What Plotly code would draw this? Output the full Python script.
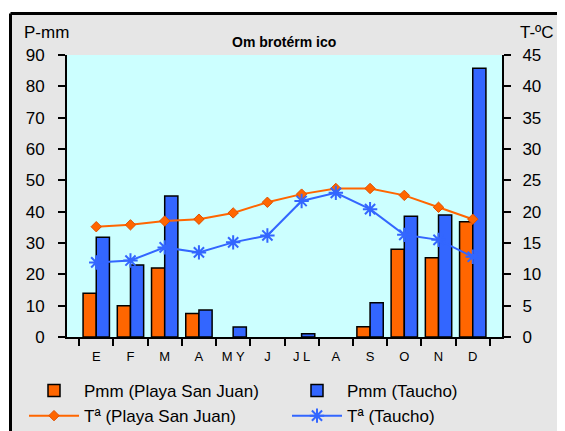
import plotly.graph_objects as go

months = ["E", "F", "M", "A", "MY", "J", "JL", "A ", "S", "O", "N", "D"]
month_labels = ["E", "F", "M", "A", "M Y", "J", "J L", "A", "S", "O", "N", "D"]
pmm_playa = [14, 10, 22, 7.5, 0, 0, 0, 0, 3.3, 28, 25.3, 36.8]
pmm_taucho = [31.8, 23, 45, 8.6, 3.2, 0, 1, 0, 10.9, 38.5, 38.9, 85.8]
t_playa = [17.6, 17.9, 18.5, 18.8, 19.8, 21.5, 22.8, 23.7, 23.7, 22.6, 20.7, 18.8]
t_taucho = [11.9, 12.2, 14.3, 13.5, 15.1, 16.2, 21.7, 23.0, 20.4, 16.3, 15.5, 12.8]

ORANGE = "#FF6600"
BLUE = "#3366FF"
GRAY = "#E6E6E6"
FONT = "Liberation Sans, Arial, sans-serif"


def outline(values):
    # no outline on empty (zero) bars, as in the reference
    return [0 if v == 0 else 1.5 for v in values]


fig = go.Figure()
fig.add_trace(go.Bar(x=months, y=pmm_playa, name="Pmm (Playa San Juan)", legend="legend",
                     marker=dict(color=ORANGE, line=dict(color="black", width=outline(pmm_playa)))))
fig.add_trace(go.Bar(x=months, y=pmm_taucho, name="Pmm (Taucho)", legend="legend2",
                     marker=dict(color=BLUE, line=dict(color="black", width=outline(pmm_taucho)))))
fig.add_trace(go.Scatter(x=months, y=t_playa, name="Tª (Playa San Juan)", yaxis="y2", legend="legend",
                         mode="lines+markers", line=dict(color=ORANGE, width=2),
                         marker=dict(symbol="diamond", size=8, color=ORANGE,
                                     line=dict(color="#E05000", width=1))))
fig.add_trace(go.Scatter(x=months, y=t_taucho, name="Tª (Taucho)", yaxis="y2", legend="legend2",
                         mode="lines+markers", line=dict(color=BLUE, width=2),
                         marker=dict(symbol="asterisk-open", size=12, color=BLUE,
                                     line=dict(color=BLUE, width=2))))

# page body has an 8px margin; reference pixel coords are converted below
OFF = 8
W, H = 565 - OFF, 431 - OFF
L, R, T, B = 67 - OFF, 63, 55 - OFF, 94
pw, ph = W - L - R, H - T - B

def px(x):
    return (x - OFF - L) / pw

def py(y):
    return (H - B - (y - OFF)) / ph

shapes = [
    dict(type="rect", xref="paper", yref="paper", x0=px(-5), x1=px(10), y0=py(500), y1=py(-5),
         fillcolor="white", line=dict(width=0)),
    dict(type="rect", xref="paper", yref="paper", x0=px(-5), x1=px(600), y0=py(13), y1=py(-5),
         fillcolor="white", line=dict(width=0)),
    dict(type="line", xref="paper", yref="paper", x0=px(10.5), x1=px(10.5), y0=py(13.5), y1=py(500),
         line=dict(color="black", width=3)),
    dict(type="line", xref="paper", yref="paper", x0=px(10.5), x1=px(600), y0=py(13.5), y1=py(13.5),
         line=dict(color="black", width=3)),
]

annotations = [
    dict(text="Om brotérm ico", xref="paper", yref="paper", x=px(284), y=py(42), showarrow=False,
         font=dict(size=14, color="black", family=FONT, weight="bold"), xanchor="center", yanchor="middle"),
    dict(text="P-mm", xref="paper", yref="paper", x=px(46), y=py(32), showarrow=False,
         font=dict(size=17, color="black", family=FONT), xanchor="center", yanchor="middle"),
    dict(text="T-ºC", xref="paper", yref="paper", x=px(537), y=py(32), showarrow=False,
         font=dict(size=17, color="black", family=FONT), xanchor="center", yanchor="middle"),
]

legend_common = dict(orientation="v", xanchor="left", yanchor="top", bgcolor="rgba(0,0,0,0)",
                     font=dict(size=17, family=FONT), itemwidth=50, tracegroupgap=0)

fig.update_layout(
    width=W, height=H,
    margin=dict(l=L, r=R, t=T, b=B, pad=0, autoexpand=False),
    paper_bgcolor=GRAY, plot_bgcolor="#CCFFFF",
    font=dict(family=FONT, color="black"),
    barmode="group", bargap=0.23, bargroupgap=0,
    showlegend=True,
    legend=dict(x=px(24), y=py(373), **legend_common),
    legend2=dict(x=px(287), y=py(373), **legend_common),
    xaxis=dict(type="category", tickmode="array", tickvals=months, ticktext=month_labels,
               showgrid=False, showline=True, linecolor="black", linewidth=2,
               ticks="outside", ticklen=7, tickwidth=1.5, tickcolor="black", tickson="boundaries",
               tickfont=dict(size=13), ticklabelstandoff=6, zeroline=False),
    yaxis=dict(range=[0, 90], dtick=10, showgrid=False, showline=True, linecolor="black", linewidth=2,
               ticks="outside", ticklen=7, tickwidth=1.5, tickcolor="black",
               tickfont=dict(size=17), ticklabelstandoff=10, zeroline=False),
    yaxis2=dict(range=[0, 45], dtick=5, overlaying="y", side="right", showgrid=False,
                showline=True, linecolor="black", linewidth=2,
                ticks="outside", ticklen=7, tickwidth=1.5, tickcolor="black",
                tickfont=dict(size=17), ticklabelstandoff=8, zeroline=False),
    shapes=shapes, annotations=annotations,
)

fig.write_html("out.html")
